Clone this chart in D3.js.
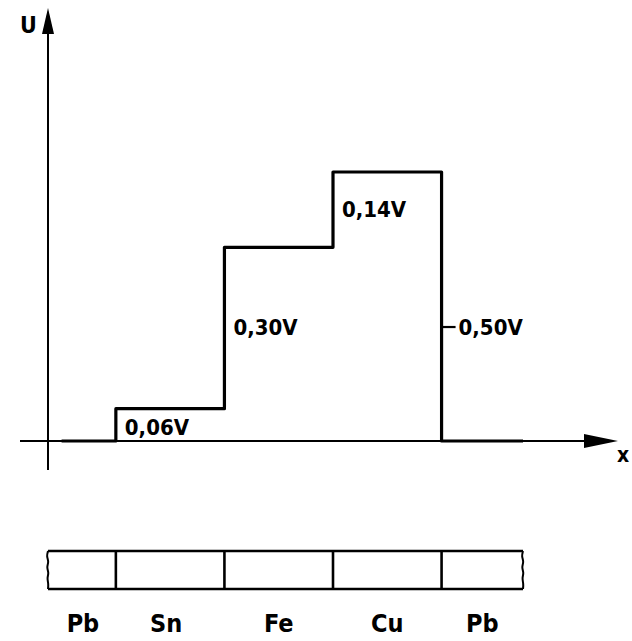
<!DOCTYPE html>
<html>
<head>
<meta charset="utf-8">
<script src="https://cdn.jsdelivr.net/npm/d3@7"></script>
<style>
  body { margin: 0; background: #fff; }
  svg text { font-family: "DejaVu Sans Condensed", "DejaVu Sans", sans-serif; font-weight: bold; fill: #000; }
</style>
</head>
<body>
<svg id="chart" width="632" height="641"></svg>
<script>
// metals along the wire and their contact potential (relative to Pb)
var metals = ['Pb', 'Sn', 'Fe', 'Cu', 'Pb'];
var potentials = [0, 0.06, 0.36, 0.50, 0];
var stepLabels = ['0,06V', '0,30V', '0,14V', '0,50V'];
// junctions between the metals, in wire units (y axis sits at 0)
var junctions = [0.625, 1.625, 2.625, 3.625];
var wireStart = 0.125, wireEnd = 4.375;

var svg = d3.select('#chart');

var x = d3.scaleLinear().domain([0, 4.375]).range([48, 523]);
var y = d3.scaleLinear().domain([0, 0.5]).range([441, 172]);

// axes
svg.append('line').attr('x1', 20).attr('x2', 590)
    .attr('y1', y(0)).attr('y2', y(0))
    .attr('stroke', '#000').attr('stroke-width', 2);
svg.append('line').attr('x1', x(0)).attr('x2', x(0))
    .attr('y1', 470).attr('y2', 30)
    .attr('stroke', '#000').attr('stroke-width', 2);

// arrow heads
svg.append('path')
    .attr('d', 'M' + 618 + ',' + y(0) + 'L' + 584 + ',' + (y(0) - 7) + 'L' + 584 + ',' + (y(0) + 7) + 'Z')
    .attr('fill', '#000');
svg.append('path')
    .attr('d', 'M' + x(0) + ',8L' + (x(0) - 6) + ',34L' + (x(0) + 6) + ',34Z')
    .attr('fill', '#000');

svg.append('text').attr('x', 20).attr('y', 33).attr('font-size', 23).text('U');
svg.append('text').attr('x', 617).attr('y', 462).attr('font-size', 21).text('x');

// step curve U(x)
var pts = [];
var edges = [wireStart].concat(junctions).concat([wireEnd]);
potentials.forEach(function(p, i) {
    pts.push([edges[i], p]);
    pts.push([edges[i + 1], p]);
});
var line = d3.line()
    .x(function(d) { return x(d[0]); })
    .y(function(d) { return y(d[1]); });
svg.append('path')
    .attr('d', line(pts))
    .attr('fill', 'none')
    .attr('stroke', '#000')
    .attr('stroke-width', 3.2)
    .attr('stroke-linejoin', 'round');

// step labels next to each jump
stepLabels.forEach(function(t, i) {
    var lo = potentials[i], hi = potentials[i + 1];
    var ty = y((lo + hi) / 2) + 7;
    if (i === 0) ty = y(0) - 6;
    if (i === 3) ty = y((potentials[1] + potentials[2]) / 2) + 7;
    var tx = x(junctions[i]) + 9;
    if (i === 3) {
        tx = x(junctions[i]) + 17;
        svg.append('line')
            .attr('x1', x(junctions[i])).attr('x2', x(junctions[i]) + 14)
            .attr('y1', ty - 8).attr('y2', ty - 8)
            .attr('stroke', '#000').attr('stroke-width', 2.2);
    }
    svg.append('text').attr('x', tx).attr('y', ty).attr('font-size', 22).text(t);
});

// wire sketch below
var barTop = 551, barBot = 589;
svg.append('line').attr('x1', x(0)).attr('x2', x(wireEnd))
    .attr('y1', barTop).attr('y2', barTop).attr('stroke', '#000').attr('stroke-width', 2.6);
svg.append('line').attr('x1', x(0)).attr('x2', x(wireEnd))
    .attr('y1', barBot).attr('y2', barBot).attr('stroke', '#000').attr('stroke-width', 2.6);
junctions.forEach(function(j) {
    svg.append('line').attr('x1', x(j)).attr('x2', x(j))
        .attr('y1', barTop).attr('y2', barBot).attr('stroke', '#000').attr('stroke-width', 2.6);
});

// wavy break marks on both ends
var wave = [0, -1.5, 1, -1.5, 1, -1, 0.5, 0];
var waveLine = d3.line().curve(d3.curveBasis)
    .x(function(d) { return d[0]; })
    .y(function(d) { return d[1]; });
[x(0), x(wireEnd)].forEach(function(bx) {
    var w = wave.map(function(dx, k) {
        return [bx + dx, barTop + k * (barBot - barTop) / (wave.length - 1)];
    });
    svg.append('path').attr('d', waveLine(w))
        .attr('fill', 'none').attr('stroke', '#000').attr('stroke-width', 2);
});

// metal names under each section
metals.forEach(function(m, i) {
    var a = i === 0 ? 0 : junctions[i - 1];
    var b = i === metals.length - 1 ? wireEnd : junctions[i];
    svg.append('text')
        .attr('x', x((a + b) / 2) + (i === 0 ? 1 : 0) + (i === 1 ? -4 : 0))
        .attr('y', 632)
        .attr('text-anchor', 'middle')
        .attr('font-size', 25)
        .text(m);
});
</script>
</body>
</html>
